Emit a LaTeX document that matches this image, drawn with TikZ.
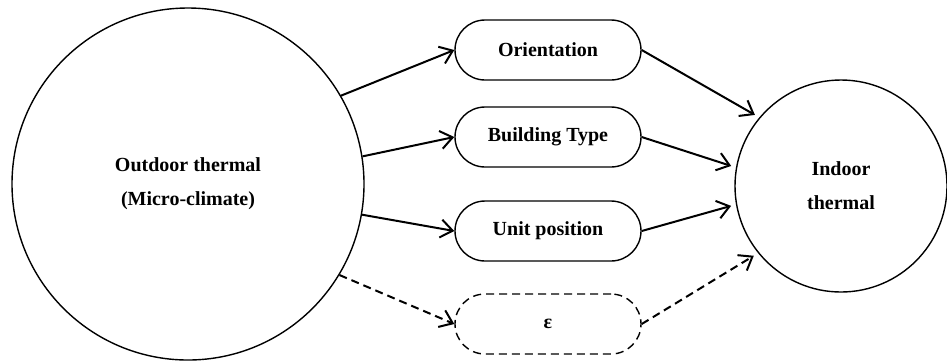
\documentclass[tikz,border=0pt]{standalone}
\usepackage{fontspec}
\setmainfont{Liberation Serif}
\usetikzlibrary{arrows.meta}
\tikzset{
  bignode/.style={circle, draw, line width=0.7pt, align=center, inner sep=0pt},
  factor/.style={draw, line width=0.7pt, rounded corners=15pt, minimum width=93pt, minimum height=30pt},
  flow/.style={-{Straight Barb[length=6pt, width=9pt]}, line width=1pt},
}
\begin{document}
\begin{tikzpicture}[x=0.5pt, y=-0.5pt, font=\bfseries\fontsize{10}{17}\selectfont]
  \useasboundingbox (0,0) rectangle (947,361);

  % Outdoor and indoor
  \node[bignode, minimum size=176pt] (outdoor) at (188,184) {Outdoor thermal\\(Micro-climate)};
  \node[bignode, minimum size=106pt] (indoor) at (841,186) {Indoor\\thermal};

  % Building factors
  \node[factor] (orient) at (548,50) {Orientation};
  \node[factor] (btype) at (548,137) {Building Type};
  \node[factor] (unitpos) at (548,231) {Unit position};
  \node[factor, dashed, dash pattern=on 4pt off 2.5pt] (eps) at (548,324) {ε};

  % Links in
  \draw[flow] (outdoor.30) -- (orient.west);
  \draw[flow] (outdoor.9) -- (btype.west);
  \draw[flow] (outdoor.-10) -- (unitpos.west);
  \draw[flow, dash pattern=on 4pt off 2.5pt] (outdoor.-31) -- (eps.west);

  % Links out
  \draw[flow, shorten >=2.5pt] (orient.east) -- (indoor.140);
  \draw[flow, shorten >=2.5pt] (btype.east) -- (indoor.170);
  \draw[flow, shorten >=2.5pt] (unitpos.east) -- (indoor.190);
  \draw[flow, shorten >=2.5pt, dash pattern=on 4pt off 2.5pt] (eps.east) -- (indoor.219);
\end{tikzpicture}
\end{document}
